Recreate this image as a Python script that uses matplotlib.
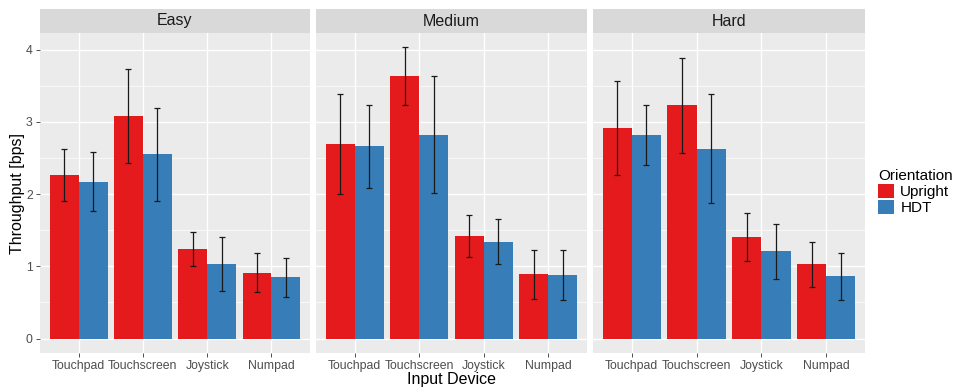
'''Throughput por dispositivo, orientación y dificultad'''

import numpy as np
import matplotlib.pyplot as plt

plt.rcParams['font.family'] = ['Liberation Sans', 'DejaVu Sans']

# Datos
devices = ['Touchpad', 'Touchscreen', 'Joystick', 'Numpad']
levels = ['Easy', 'Medium', 'Hard']
orientations = ['Upright', 'HDT']

upright_easy = [2.26, 3.08, 1.24, 0.91]
upright_easy_err = [0.36, 0.65, 0.23, 0.27]
hdt_easy = [2.17, 2.55, 1.03, 0.85]
hdt_easy_err = [0.41, 0.64, 0.37, 0.27]

upright_medium = [2.69, 3.64, 1.42, 0.89]
upright_medium_err = [0.69, 0.40, 0.29, 0.34]
hdt_medium = [2.66, 2.82, 1.34, 0.88]
hdt_medium_err = [0.57, 0.81, 0.31, 0.35]

upright_hard = [2.91, 3.23, 1.41, 1.03]
upright_hard_err = [0.65, 0.66, 0.33, 0.31]
hdt_hard = [2.82, 2.63, 1.21, 0.86]
hdt_hard_err = [0.42, 0.76, 0.38, 0.32]

upright_all = [upright_easy, upright_medium, upright_hard]
upright_err_all = [upright_easy_err, upright_medium_err, upright_hard_err]
hdt_all = [hdt_easy, hdt_medium, hdt_hard]
hdt_err_all = [hdt_easy_err, hdt_medium_err, hdt_hard_err]

colors = ['#E41A1C', '#377EB8']

W, H = 960, 388
fig = plt.figure(figsize=(W / 100, H / 100), dpi=100)

panels_x = [(40, 310), (316, 587), (593, 865)]
panel_top, panel_bottom = 33, 353
strip_top = 9

x = np.arange(1, len(devices) + 1)
width = 0.45

for i, (x0, x1) in enumerate(panels_x):
    ax = fig.add_axes([x0 / W, 1 - panel_bottom / H, (x1 - x0) / W,
                       (panel_bottom - panel_top) / H])
    ax.set_facecolor('#EBEBEB')
    for s in ax.spines.values():
        s.set_visible(False)

    # Barras y barras de error
    series = [(upright_all[i], upright_err_all[i]), (hdt_all[i], hdt_err_all[i])]
    for j, (vals, errs) in enumerate(series):
        pos = x + (j - 0.5) * width
        ax.bar(pos, vals, width=width, color=colors[j], zorder=2,
               label=orientations[j])
        ax.errorbar(pos, vals, yerr=errs, fmt='none', ecolor='#1a1a1a',
                    elinewidth=0.9, capsize=2.2, capthick=0.9, zorder=3)

    ax.set_xlim(0.4, 4.6)
    ax.set_ylim(-0.2, 4.23)
    ax.set_yticks([0, 1, 2, 3, 4])
    ax.set_yticks([0.5, 1.5, 2.5, 3.5], minor=True)
    ax.set_xticks(x)
    ax.set_xticklabels(devices)
    ax.grid(which='major', color='white', lw=1.0, zorder=0)
    ax.grid(which='minor', axis='y', color='white', lw=0.5, zorder=0)
    ax.set_axisbelow(True)
    ax.tick_params(which='major', length=2.75, width=0.6, color='#333333',
                   labelsize=8.8, labelcolor='#4D4D4D', pad=2.5)
    ax.tick_params(which='minor', length=0)
    if i == 0:
        ax.set_yticklabels(['0', '1', '2', '3', '4'])
        ax.set_ylabel('Throughput [bps]', fontsize=11.5)
        ax.yaxis.set_label_coords(-0.056, 0.5)
    else:
        ax.tick_params(axis='y', length=0, labelleft=False)
    if i == 1:
        ax.set_xlabel('Input Device', fontsize=11.5, labelpad=0)

    # Franja con el título del panel
    strip = fig.add_axes([x0 / W, 1 - panel_top / H, (x1 - x0) / W,
                          (panel_top - strip_top) / H])
    strip.set_facecolor('#D9D9D9')
    strip.set_xticks([])
    strip.set_yticks([])
    for s in strip.spines.values():
        s.set_visible(False)
    strip.text(0.5, 0.5, levels[i], ha='center', va='center', fontsize=11.5,
               color='#1A1A1A', transform=strip.transAxes)

    if i == 2:
        handles, labels = ax.get_legend_handles_labels()

# Leyenda
leg = fig.legend(handles, labels, title='Orientation', loc='upper left',
                 bbox_to_anchor=(872 / W, 1 - 163 / H), frameon=False,
                 fontsize=11, title_fontsize=11, handlelength=1.05,
                 handleheight=1.05, handletextpad=0.4, labelspacing=0.05,
                 borderaxespad=0)
leg._legend_box.align = 'left'

fig.savefig('out.png', dpi=100)
